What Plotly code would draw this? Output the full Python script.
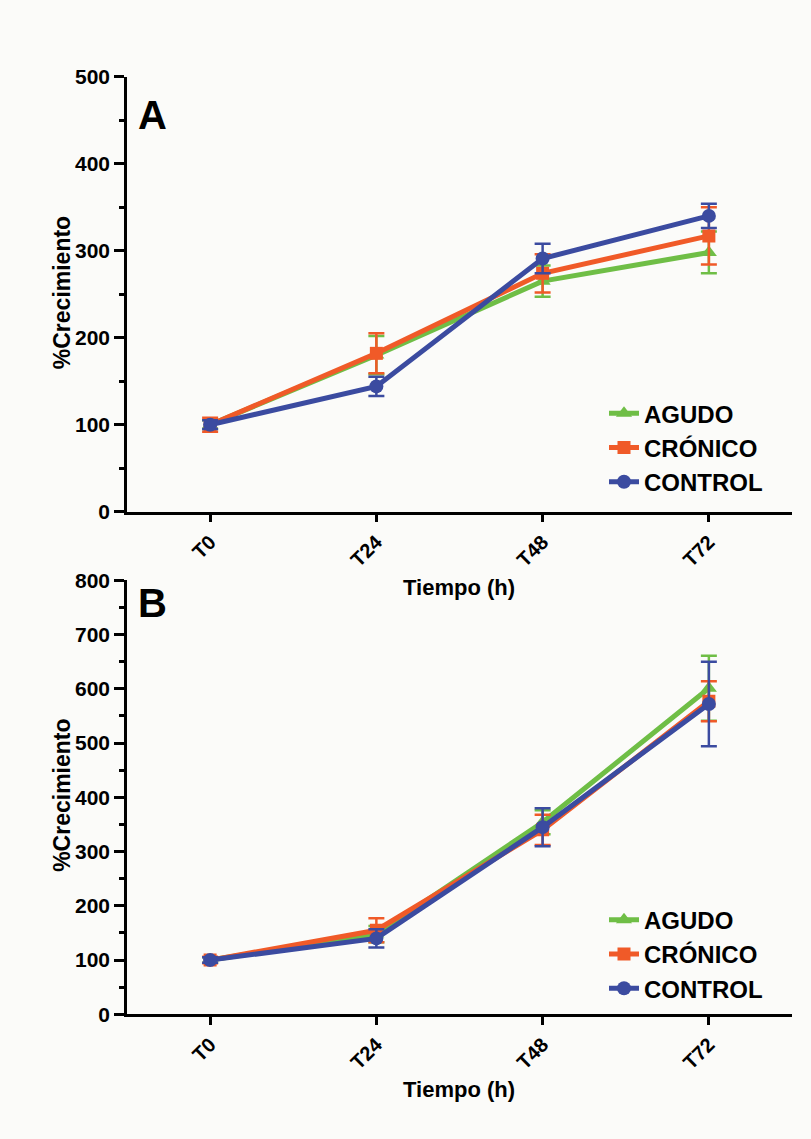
import plotly.graph_objects as go

# Datos
tiempos = ["T0", "T24", "T48", "T72"]
grupos = ["AGUDO", "CRÓNICO", "CONTROL"]

# Panel A
a_agudo = [100, 180, 265, 298]
a_agudo_err = [5, 22, 18, 24]
a_cronico = [100, 182, 274, 317]
a_cronico_err = [8, 23, 22, 33]
a_control = [100, 144, 291, 340]
a_control_err = [5, 11, 17, 14]

# Panel B
b_agudo = [100, 148, 354, 601]
b_agudo_err = [5, 15, 22, 60]
b_cronico = [100, 155, 340, 577]
b_cronico_err = [6, 22, 28, 37]
b_control = [100, 140, 345, 572]
b_control_err = [5, 17, 35, 78]

colores = {"AGUDO": "#6fbe46", "CRÓNICO": "#f05a28", "CONTROL": "#3b4ba0"}
simbolos = {"AGUDO": "triangle-up", "CRÓNICO": "square", "CONTROL": "circle"}
tamanos = {"AGUDO": 14, "CRÓNICO": 13, "CONTROL": 14}

FUENTE = "Liberation Sans, Arial, sans-serif"
W, H = 811, 1139

fig = go.Figure()

paneles = [
    ("x", "y", "legend", [a_agudo, a_cronico, a_control], [a_agudo_err, a_cronico_err, a_control_err]),
    ("x2", "y2", "legend2", [b_agudo, b_cronico, b_control], [b_agudo_err, b_cronico_err, b_control_err]),
]

for xa, ya, leg, series, errores in paneles:
    for g, vals, err in zip(grupos, series, errores):
        fig.add_trace(go.Scatter(
            x=list(range(len(tiempos))), y=vals, name=g, mode="lines+markers",
            xaxis=xa, yaxis=ya, legend=leg,
            line=dict(color=colores[g], width=5),
            marker=dict(symbol=simbolos[g], size=tamanos[g], color=colores[g]),
            error_y=dict(type="data", array=err, visible=True, color=colores[g],
                         thickness=2.5, width=8),
        ))

def px_to_paper_x(px):
    return px / W

def px_to_paper_y(py):
    return 1 - py / H

eje_x = dict(
    range=[-0.5, 3.5], tickmode="array", tickvals=list(range(4)), ticktext=tiempos,
    tickangle=-45, showgrid=False, zeroline=False, showline=True, linecolor="black",
    linewidth=2.5, ticks="outside", ticklen=8, tickwidth=2.5, tickcolor="black",
    tickfont=dict(family=FUENTE, size=20, color="black", weight="bold"),
    domain=[px_to_paper_x(127), px_to_paper_x(792)],
)
eje_y = dict(
    showgrid=False, zeroline=False, showline=True, linecolor="black", linewidth=2.5,
    ticks="outside", ticklen=10, tickwidth=2.5, tickcolor="black",
    tickfont=dict(family=FUENTE, size=21, color="black", weight="bold"),
    minor=dict(ticks="outside", ticklen=5, tickwidth=2.5, tickcolor="black", dtick=50),
)

leyenda = dict(xanchor="left", yanchor="top", bgcolor="rgba(0,0,0,0)", tracegroupgap=0,
               font=dict(family=FUENTE, size=24, color="black", weight="bold"))

fig.update_layout(
    width=W, height=H, margin=dict(l=0, r=0, t=0, b=0),
    paper_bgcolor="#fbfbf9", plot_bgcolor="#fbfbf9",
    font=dict(family=FUENTE, color="black"),
    xaxis=dict(eje_x, anchor="y"),
    xaxis2=dict(eje_x, anchor="y2"),
    yaxis=dict(eje_y, range=[0, 500], dtick=100, anchor="x",
               domain=[px_to_paper_y(510), px_to_paper_y(66)]),
    yaxis2=dict(eje_y, range=[0, 800], dtick=100, anchor="x2",
                domain=[px_to_paper_y(1023), px_to_paper_y(580)]),
    legend=dict(leyenda, x=px_to_paper_x(604), y=px_to_paper_y(387)),
    legend2=dict(leyenda, x=px_to_paper_x(604), y=px_to_paper_y(904)),
)

anotaciones = [
    ("A", 152, 105, 40, 0),
    ("B", 152, 603, 40, 0),
    ("Tiempo (h)", 459, 587, 22, 0),
    ("Tiempo (h)", 459, 1100, 22, 0),
    ("%Crecimiento", 62, 287, 23, -90),
    ("%Crecimiento", 62, 800, 23, -90),
]
for texto, ax, ay, tam, ang in anotaciones:
    fig.add_annotation(
        text=texto, x=px_to_paper_x(ax), y=px_to_paper_y(ay), xref="paper", yref="paper",
        showarrow=False, textangle=ang, xanchor="center", yanchor="middle",
        font=dict(family=FUENTE, size=tam, color="black", weight="bold"),
    )

# quitar el margen del body para que la figura ocupe la ventana exacta
fig.write_html("out.html", config={"displayModeBar": False},
               post_script="document.body.style.margin='0';document.body.style.overflow='hidden';")
